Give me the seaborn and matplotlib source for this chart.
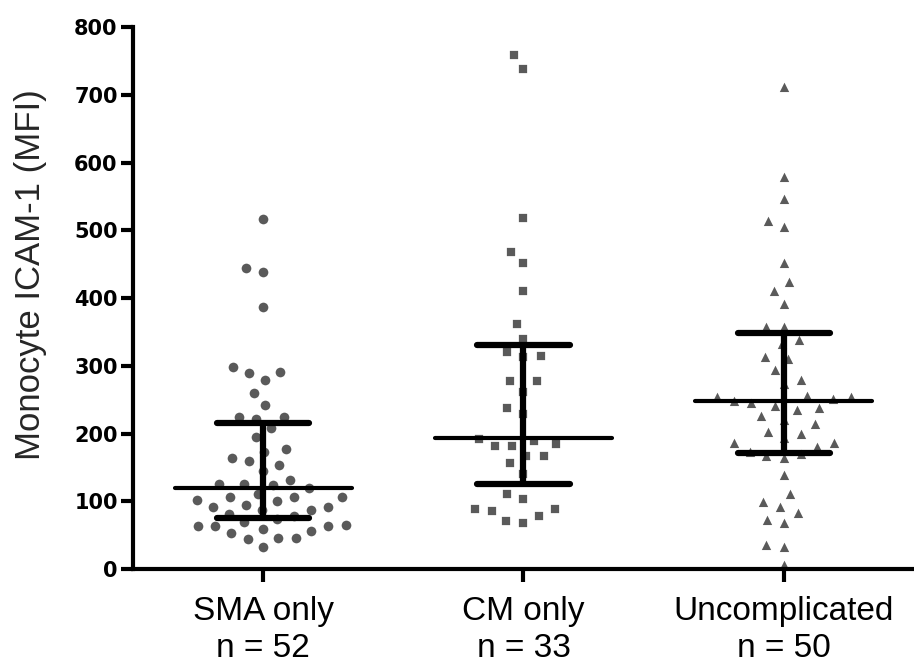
import numpy as np
import pandas as pd
import matplotlib
matplotlib.use('Agg')
import matplotlib.pyplot as plt
import seaborn as sns

# valores
groups = ['SMA only', 'CM only', 'Uncomplicated']
n_labels = ['n = 52', 'n = 33', 'n = 50']

sma = [517, 438, 445, 387, 291, 279, 289, 299, 260, 242, 225, 221, 225, 208,
       195, 177, 173, 160, 164, 154, 145, 126, 124, 126, 132, 119, 106, 100,
       107, 107, 102, 92, 87, 87, 91, 95, 81, 79, 74, 69, 64, 63, 59, 63, 65,
       53, 46, 45, 46, 56, 33, 111]
cm = [759, 738, 518, 468, 451, 410, 362, 339, 321, 313, 315, 278, 278, 262,
      238, 229, 189, 182, 192, 184, 182, 167, 167, 157, 141, 111, 103, 88, 79,
      68, 71, 86, 88]
uncomp = [713, 580, 547, 506, 515, 453, 425, 412, 392, 359, 359, 334, 339,
          311, 315, 295, 280, 274, 255, 253, 255, 257, 242, 237, 239, 247, 221,
          227, 215, 204, 201, 188, 182, 187, 195, 168, 166, 171, 140, 113, 84,
          100, 93, 69, 74, 37, 34, 7, 250, 175]

# mediana e intervalo interquartil
medians = [119, 193, 248]
q1 = [75, 126, 172]
q3 = [215, 330, 349]

values = [sma, cm, uncomp]
markers = ['o', 's', '^']
# tamanho do marcador e borda branca (a borda da o espacamento entre pontos)
msizes = [9.5, 9.3, 10]
edges = [2.5, 2.7, 2]

df = pd.concat([pd.DataFrame({'group': g, 'mfi': v}) for g, v in zip(groups, values)],
               ignore_index=True)

sns.set_style('ticks')
plt.rcParams['font.family'] = ['Liberation Sans', 'DejaVu Sans']

fig = plt.figure(figsize=(9.14, 6.68), dpi=100)
ax = fig.add_axes([0.1455, 0.148, 0.8545, 0.8116])

for g, m, sz, lw in zip(groups, markers, msizes, edges):
    sns.swarmplot(data=df[df['group'] == g], x='group', y='mfi', order=groups,
                  marker=m, color='#5a5a5a', size=sz, linewidth=lw,
                  edgecolor='white', ax=ax, zorder=2)

pos = np.arange(len(groups))
ax.hlines(medians, pos - 0.34, pos + 0.34, color='black', lw=3, zorder=5,
          capstyle='round')
ax.vlines(pos, q1, q3, color='black', lw=4.5, zorder=5)
ax.hlines(q1, pos - 0.177, pos + 0.177, color='black', lw=4.5, zorder=5,
          capstyle='round')
ax.hlines(q3, pos - 0.177, pos + 0.177, color='black', lw=4.5, zorder=5,
          capstyle='round')

ax.set_xlim(-0.5, 2.5)
ax.set_ylim(0, 800)
ax.set_yticks(range(0, 801, 100))
ax.set_xticks(pos)
ax.set_xticklabels([f'{g}\n{n}' for g, n in zip(groups, n_labels)], fontsize=24,
                   linespacing=1.25)
for lab in ax.get_yticklabels():
    lab.set_fontfamily('DejaVu Sans')
    lab.set_fontweight('heavy')
    lab.set_fontsize(15)

ax.set_xlabel('')
ax.set_ylabel('Monocyte ICAM-1 (MFI)', fontsize=25)
ax.yaxis.set_label_coords(-0.11, 0.544)

sns.despine(ax=ax)
for s in ['left', 'bottom']:
    ax.spines[s].set_linewidth(3)
    ax.spines[s].set_color('black')
ax.tick_params(axis='y', length=9, width=3, pad=2, colors='black')
ax.tick_params(axis='x', length=9, width=3, pad=10, colors='black')

plt.savefig('out.png', dpi=100)
